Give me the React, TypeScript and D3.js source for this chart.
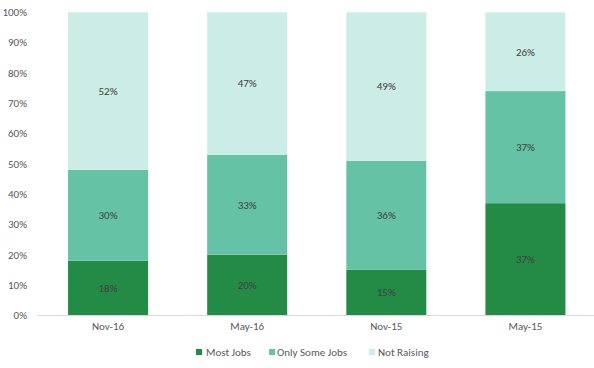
import React from "react";
import * as d3 from "d3";

const categories = ["Nov-16", "May-16", "Nov-15", "May-15"];
const seriesNames = ["Most Jobs", "Only Some Jobs", "Not Raising"];
const mostJobs = [18, 20, 15, 37];
const onlySomeJobs = [30, 33, 36, 37];
const notRaising = [52, 47, 49, 26];
const yTicks = [0, 10, 20, 30, 40, 50, 60, 70, 80, 90, 100];
const colors = ["#238b45", "#66c2a4", "#ccece6"];

const W = 594, H = 368;
const font = "Calibri, Carlito, 'Liberation Sans', Arial, sans-serif";

export default function App() {
  const x = d3.scaleBand().domain(categories).range([38.5, 595]).paddingInner(0.425).paddingOuter(0.2125);
  const y = d3.scaleLinear().domain([0, 100]).range([315.3, 12.3]);
  const series = [mostJobs, onlySomeJobs, notRaising];
  const rows = categories.map((c, i) => ({ cat: c, a: mostJobs[i], b: onlySomeJobs[i], c2: notRaising[i] }));
  const stack = d3.stack<any>().keys(["a", "b", "c2"])(rows);
  const legendItems = [
    { x: 196, tx: 206 },
    { x: 269, tx: 277 },
    { x: 369, tx: 378 },
  ];
  return (
    <svg width={W} height={H} style={{ position: "absolute", left: 0, top: 0, background: "#fff" }} fontFamily={font}>
      {yTicks.map((t) => (
        <text key={t} x={27} y={y(t)} dy="0.35em" textAnchor="end" fontSize={11} fill="#595959">{t}%</text>
      ))}
      {stack.map((s, si) =>
        s.map((d, i) => (
          <g key={si + "-" + i}>
            <rect x={x(categories[i])} width={x.bandwidth()} y={y(d[1])} height={y(d[0]) - y(d[1])} fill={colors[si]} />
            <text x={x(categories[i])! + x.bandwidth() / 2} y={(y(d[0]) + y(d[1])) / 2} dy="0.35em" textAnchor="middle" fontSize={11} fill="#404040">{series[si][i]}%</text>
          </g>
        ))
      )}
      <line x1={38} x2={594} y1={315.5} y2={315.5} stroke="#d9d9d9" />
      {categories.map((c) => (
        <text key={c} x={x(c)! + x.bandwidth() / 2} y={326} dy="0.35em" textAnchor="middle" fontSize={11} fill="#595959">{c}</text>
      ))}
      {seriesNames.map((n, i) => (
        <g key={n}>
          <rect x={legendItems[i].x} y={349} width={6} height={6} fill={colors[i]} />
          <text x={legendItems[i].tx} y={352} dy="0.35em" fontSize={11} fill="#595959">{n}</text>
        </g>
      ))}
    </svg>
  );
}
